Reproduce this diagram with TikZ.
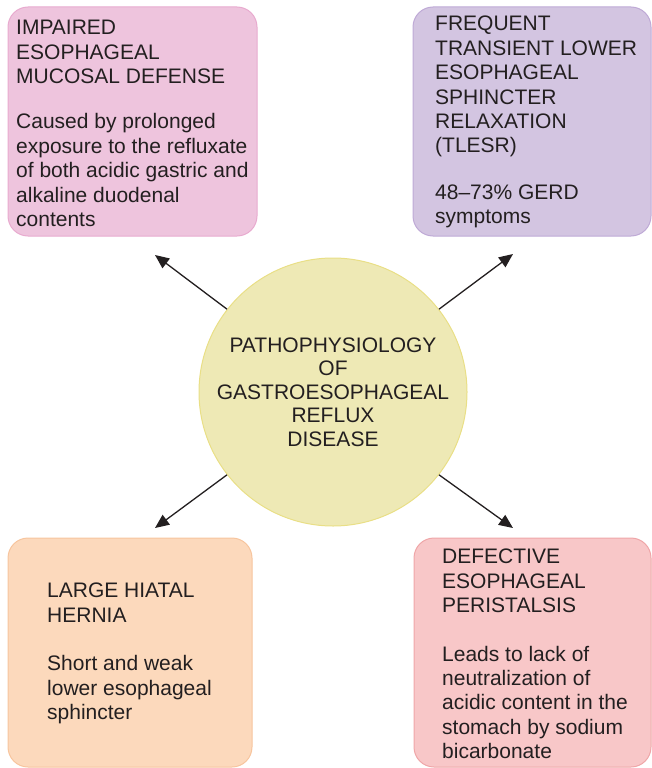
\documentclass[tikz,border=0pt]{standalone}
\usepackage{fontspec}
\setmainfont{Liberation Sans}
\usetikzlibrary{arrows.meta}
\definecolor{txt}{HTML}{231F20}
\definecolor{pinkf}{HTML}{EEC4DD}
\definecolor{pinkd}{HTML}{E8ABCF}
\definecolor{purf}{HTML}{D3C5E1}
\definecolor{purd}{HTML}{BFAAD6}
\definecolor{oraf}{HTML}{FCD9BC}
\definecolor{orad}{HTML}{F7C59E}
\definecolor{redf}{HTML}{F8C7C8}
\definecolor{redd}{HTML}{EFA6A8}
\definecolor{yelf}{HTML}{EEE9B5}
\definecolor{yeld}{HTML}{E9DF86}
\tikzset{
  card/.style={draw=#1, line width=1pt, rounded corners=20pt, inner sep=0pt},
  lbl/.style={anchor=north west, inner sep=0pt, align=left, text=txt,
    font=\fontsize{21}{24.4}\selectfont},
  arr/.style={draw=txt, line width=1.3pt, -{Triangle[length=14pt,width=12pt]}},
}
\begin{document}
\begin{tikzpicture}[x=1pt,y=-1pt]
\useasboundingbox (0,0) rectangle (652,768);
% boxes
\node[card=pinkd, fill=pinkf, minimum width=249pt, minimum height=229pt] (b1) at (132.5,121.5) {};
\node[card=purd, fill=purf, minimum width=238pt, minimum height=229pt] (b2) at (532,121.5) {};
\node[card=orad, fill=oraf, minimum width=244pt, minimum height=229pt] (b3) at (130,652.5) {};
\node[card=redd, fill=redf, minimum width=237pt, minimum height=229pt] (b4) at (532.5,652.5) {};
% texts
\node[lbl] (t1) at (16,20) {IMPAIRED\\ESOPHAGEAL\\MUCOSAL DEFENSE\\[21pt]Caused by prolonged\\exposure to the refluxate\\of both acidic gastric and\\alkaline duodenal\\contents};
\node[lbl] (t2) at (435,16) {FREQUENT\\TRANSIENT LOWER\\ESOPHAGEAL\\SPHINCTER\\RELAXATION\\(TLESR)\\[22pt]48–73\% GERD\\symptoms};
\node[lbl] (t3) at (47,583) {LARGE HIATAL\\HERNIA\\[24pt]Short and weak\\lower esophageal\\sphincter};
\node[lbl] (t4) at (442,549) {DEFECTIVE\\ESOPHAGEAL\\PERISTALSIS\\[24pt]Leads to lack of\\neutralization of\\acidic content in the\\stomach by sodium\\bicarbonate};
% centre
\node[circle, draw=yeld, fill=yelf, line width=1pt, minimum size=268pt, inner sep=0pt,
  align=center, text=txt, font=\fontsize{21}{23.6}\selectfont] (c) at (333,392)
  {PATHOPHYSIOLOGY\\OF\\GASTROESOPHAGEAL\\REFLUX\\DISEASE};
% arrow ends
\coordinate (e1) at (155,255);
\coordinate (e2) at (513,254);
\coordinate (e3) at (155,528);
\coordinate (e4) at (513,528);
\draw[arr] (c.142) -- (e1);
\draw[arr] (c.38) -- (e2);
\draw[arr] (c.218) -- (e3);
\draw[arr] (c.322) -- (e4);
\end{tikzpicture}
\end{document}
